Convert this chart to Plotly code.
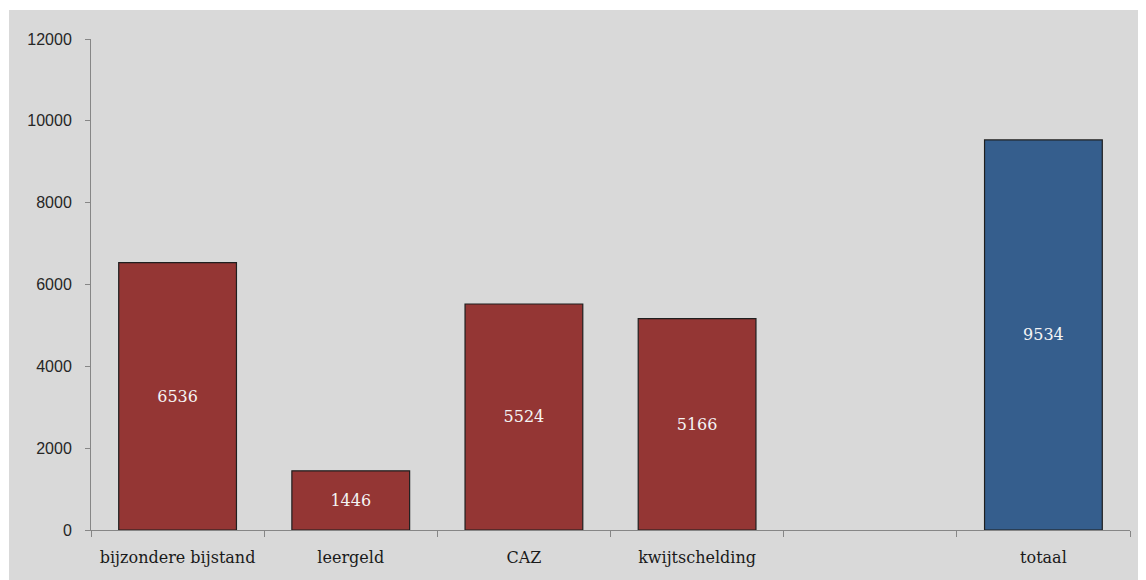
import plotly.graph_objects as go

categories = ["bijzondere bijstand", "leergeld", "CAZ", "kwijtschelding", " ", "totaal"]
values = [6536, 1446, 5524, 5166, None, 9534]
bar_colors = ["#943634", "#943634", "#943634", "#943634", "#943634", "#355E8D"]
labels = ["6536", "1446", "5524", "5166", "", "9534"]
y_ticks = [0, 2000, 4000, 6000, 8000, 10000, 12000]

# page body has an 8px margin; figure sized to fit the window
W, H = 1138, 572
ml, mr, mt, mb = 83, 16, 31, 50
pw = W - ml - mr
ph = H - mt - mb

fig = go.Figure()
fig.add_trace(go.Bar(
    x=categories,
    y=values,
    marker=dict(color=bar_colors, line=dict(color="#1f1f1f", width=1.2)),
    text=labels,
    textposition="inside",
    insidetextanchor="middle",
    textangle=0,
    textfont=dict(family="DejaVu Serif, Liberation Serif, serif", size=16, color="#f4f4f4"),
    hoverinfo="skip",
))

# gray chart area background
fig.add_shape(
    type="rect", xref="paper", yref="paper",
    x0=(1 - ml) / pw, x1=(W - ml) / pw + 0.01,
    y0=-mb / ph - 0.01, y1=(H - mb - 2) / ph,
    fillcolor="#d9d9d9", line=dict(width=0), layer="below",
)

fig.update_layout(
    width=W, height=H,
    margin=dict(l=ml, r=mr, t=mt, b=mb),
    paper_bgcolor="white",
    plot_bgcolor="rgba(0,0,0,0)",
    showlegend=False,
    bargap=0.32,
    xaxis=dict(
        type="category",
        showgrid=False,
        showline=True, linecolor="#868686", linewidth=1,
        ticks="outside", tickson="boundaries", ticklen=6, tickcolor="#868686",
        tickfont=dict(family="DejaVu Serif, Liberation Serif, serif", size=16, color="#1a1a1a"),
        ticklabelstandoff=13,
        zeroline=False,
    ),
    yaxis=dict(
        range=[0, 12000],
        tickvals=y_ticks,
        ticktext=[str(v) for v in y_ticks],
        showgrid=False,
        showline=True, linecolor="#868686", linewidth=1,
        ticks="outside", ticklen=5, tickcolor="#868686",
        tickfont=dict(family="Liberation Sans, DejaVu Sans, sans-serif", size=16, color="#262626"),
        ticklabelstandoff=10,
        zeroline=False,
    ),
)

fig.write_html("out.html")
